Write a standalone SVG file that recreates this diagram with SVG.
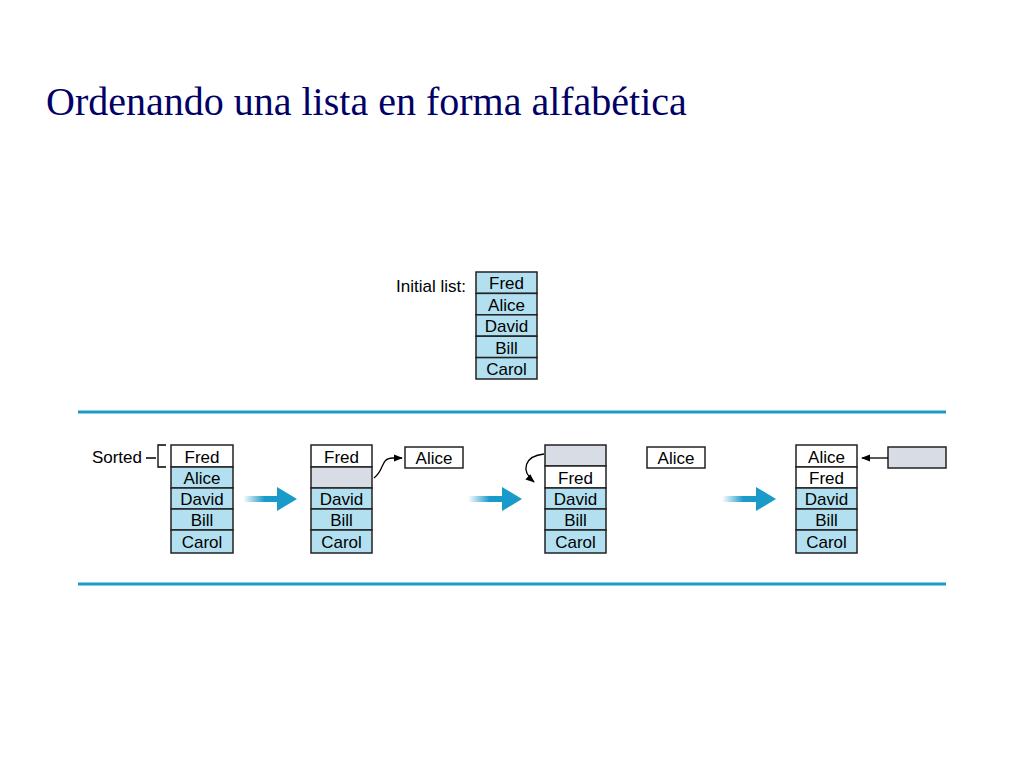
<svg xmlns="http://www.w3.org/2000/svg" width="1024" height="768" viewBox="0 0 1024 768">
<defs>
<style>
.t{font-family:"Liberation Sans",Arial,sans-serif;font-size:17px;fill:#000;text-anchor:middle}
.w{fill:#fff;stroke:#222;stroke-width:1.5}
.b{fill:#b3e0f0;stroke:#222;stroke-width:1.5}
.g{fill:#d8dce4;stroke:#222;stroke-width:1.5}
.rule{stroke:#1a9ac9;stroke-width:3}
.k{fill:none;stroke:#000;stroke-width:1.3}
</style>
<linearGradient id="ag" x1="0" x2="1"><stop offset="0" stop-color="#1a9ac9" stop-opacity="0"/><stop offset="0.6" stop-color="#1a9ac9"/></linearGradient>
<marker id="ah" viewBox="0 0 10 10" refX="9" refY="5" markerWidth="7" markerHeight="7" orient="auto"><path d="M0,1 L10,5 L0,9 z" fill="#000"/></marker>
<symbol id="bigArrow" overflow="visible"><rect x="0" y="-3" width="36" height="6" fill="url(#ag)"/><path d="M34,-12 L54,0 L34,12 z" fill="#1a9ac9"/></symbol>
</defs>
<rect width="1024" height="768" fill="#fff"/>
<text x="46" y="115" font-family="Liberation Serif,serif" font-size="40" fill="#000066">Ordenando una lista en forma alfabética</text>

<g id="initial">
<text x="466" y="292" class="t" style="text-anchor:end">Initial list:</text>
<rect x="476" y="272" width="61" height="21.4" class="b"/><text x="506.5" y="289" class="t">Fred</text>
<rect x="476" y="293.4" width="61" height="21.4" class="b"/><text x="506.5" y="310.5" class="t">Alice</text>
<rect x="476" y="314.8" width="61" height="21.4" class="b"/><text x="506.5" y="332" class="t">David</text>
<rect x="476" y="336.2" width="61" height="21.4" class="b"/><text x="506.5" y="353.5" class="t">Bill</text>
<rect x="476" y="357.6" width="61" height="21.4" class="b"/><text x="506.5" y="375" class="t">Carol</text>
</g>

<line x1="78" y1="412" x2="946" y2="412" class="rule"/>
<line x1="78" y1="584" x2="946" y2="584" class="rule"/>

<g id="stack1">
<text x="142" y="463" class="t" style="text-anchor:end">Sorted</text>
<path d="M146,458 H156 M166,445 H158 V467 H166" class="k"/>
<rect x="171" y="445" width="62" height="22" class="w"/><text x="202" y="463" class="t">Fred</text>
<rect x="171" y="467" width="62" height="21" class="b"/><text x="202" y="484" class="t">Alice</text>
<rect x="171" y="488" width="62" height="21" class="b"/><text x="202" y="505" class="t">David</text>
<rect x="171" y="509" width="62" height="21" class="b"/><text x="202" y="526" class="t">Bill</text>
<rect x="171" y="530" width="62" height="23" class="b"/><text x="202" y="548" class="t">Carol</text>
</g>
<g id="stack2">
<rect x="311" y="445" width="61" height="22" class="w"/><text x="341.5" y="463" class="t">Fred</text>
<rect x="311" y="467" width="61" height="21" class="g"/>
<rect x="311" y="488" width="61" height="21" class="b"/><text x="341.5" y="505" class="t">David</text>
<rect x="311" y="509" width="61" height="21" class="b"/><text x="341.5" y="526" class="t">Bill</text>
<rect x="311" y="530" width="61" height="23" class="b"/><text x="341.5" y="548" class="t">Carol</text>
<rect x="405" y="447" width="58" height="21" class="w"/><text x="434" y="464" class="t">Alice</text>
</g>
<g id="stack3">
<rect x="545" y="445" width="61" height="21" class="g"/>
<rect x="545" y="466" width="61" height="22" class="w"/><text x="575.5" y="484" class="t">Fred</text>
<rect x="545" y="488" width="61" height="21" class="b"/><text x="575.5" y="505" class="t">David</text>
<rect x="545" y="509" width="61" height="21" class="b"/><text x="575.5" y="526" class="t">Bill</text>
<rect x="545" y="530" width="61" height="23" class="b"/><text x="575.5" y="548" class="t">Carol</text>
<rect x="647" y="447" width="58" height="21" class="w"/><text x="676" y="464" class="t">Alice</text>
</g>
<g id="stack4">
<rect x="796" y="445" width="61" height="22" class="w"/><text x="826.5" y="463" class="t">Alice</text>
<rect x="796" y="467" width="61" height="21" class="w"/><text x="826.5" y="484" class="t">Fred</text>
<rect x="796" y="488" width="61" height="21" class="b"/><text x="826.5" y="505" class="t">David</text>
<rect x="796" y="509" width="61" height="21" class="b"/><text x="826.5" y="526" class="t">Bill</text>
<rect x="796" y="530" width="61" height="23" class="b"/><text x="826.5" y="548" class="t">Carol</text>
<rect x="888" y="447" width="58" height="21" class="g"/>
</g>

<g id="connectors">
<path d="M374,478 C385,470 380,458 393,458 L402,458" class="k" marker-end="url(#ah)"/>
<path d="M544,454 C525,456 520,470 534,482" class="k" marker-end="url(#ah)"/>
<path d="M888,458 L862,458" class="k" marker-end="url(#ah)"/>
<use href="#bigArrow" x="243" y="499"/>
<use href="#bigArrow" x="468" y="499"/>
<use href="#bigArrow" x="722" y="499"/>
</g>
</svg>
